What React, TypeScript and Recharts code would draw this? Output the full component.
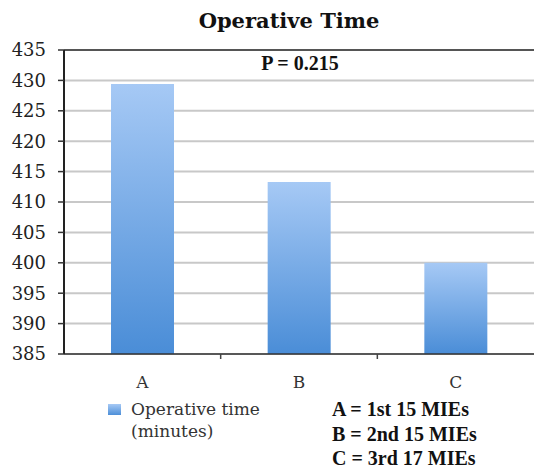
import { BarChart, Bar, XAxis, YAxis, CartesianGrid, ReferenceLine, Legend } from 'recharts';

const groups = ['A', 'B', 'C'];
const operativeTime = [429.4, 413.3, 400.0];
const yTicks = [385, 390, 395, 400, 405, 410, 415, 420, 425, 430, 435];
const groupKey = ['A = 1st 15 MIEs', 'B = 2nd 15 MIEs', 'C = 3rd 17 MIEs'];
const seriesName = ['Operative time', '(minutes)'];
const pValue = 'P = 0.215';

const data = groups.map((g, i) => ({ group: g, time: operativeTime[i] }));

const serif = '"DejaVu Serif", serif';
const timesBold = { fontFamily: '"Liberation Serif", serif', fontWeight: 700, fontSize: 20, color: '#111' };

// category label, plus a short tick on the right-hand boundary of the band
// (payload.offset is half the band width)
function GroupTick(props: any) {
  const { x, y, payload, index } = props;
  const edge = x + payload.offset;
  return (
    <g>
      {index < groups.length - 1 && (
        <line x1={edge} x2={edge} y1={y} y2={y + 5} stroke="#444" strokeWidth={1.5} />
      )}
      <text x={x} y={y + 22} dy="0.71em" textAnchor="middle" fontFamily={serif} fontSize={17} fill="#333">
        {payload.value}
      </text>
    </g>
  );
}

function LegendBox() {
  return (
    <div style={{ display: 'flex', alignItems: 'flex-start', fontFamily: serif, fontSize: 17, color: '#333', lineHeight: '22px' }}>
      <div
        style={{
          width: 13,
          height: 11,
          marginTop: 6,
          marginRight: 10,
          background: 'linear-gradient(#a6c9f5, #4d8fd8)',
        }}
      />
      <div>
        {seriesName.map(s => (
          <div key={s}>{s}</div>
        ))}
      </div>
    </div>
  );
}

export default function App() {
  return (
    <div style={{ position: 'absolute', left: 0, top: 0, width: 534, height: 469, background: '#fff' }}>
      <div
        style={{
          position: 'absolute',
          left: 139,
          width: 300,
          top: 8,
          textAlign: 'center',
          fontFamily: serif,
          fontWeight: 700,
          fontSize: 21,
          color: '#111',
        }}
      >
        Operative Time
      </div>
      <div style={{ position: 'absolute', left: 200, width: 200, top: 52, textAlign: 'center', ...timesBold }}>
        {pValue}
      </div>

      <BarChart width={534} height={469} data={data} margin={{ top: 50, right: 0, left: 0, bottom: 85 }} barCategoryGap="30%">
        <defs>
          <linearGradient id="barFill" x1="0" y1="0" x2="0" y2="1">
            <stop offset="0%" stopColor="#a6c9f5" />
            <stop offset="100%" stopColor="#4a8dd7" />
          </linearGradient>
        </defs>
        <CartesianGrid vertical={false} stroke="#c8c8c8" strokeWidth={2} />
        <ReferenceLine y={435} stroke="#555" strokeWidth={2} />
        <XAxis
          dataKey="group"
          height={30}
          tickLine={false}
          tickSize={0}
          tickMargin={0}
          axisLine={{ stroke: '#333', strokeWidth: 1.5 }}
          tick={<GroupTick />}
        />
        <YAxis
          domain={[385, 435]}
          ticks={yTicks}
          width={64}
          interval={0}
          tickSize={6}
          tickMargin={12}
          axisLine={{ stroke: '#222', strokeWidth: 2 }}
          tickLine={{ stroke: '#333', strokeWidth: 1.5 }}
          tick={{ fontFamily: serif, fontSize: 18, fill: '#222' }}
        />
        <Legend
          verticalAlign="middle"
          align="center"
          content={() => <LegendBox />}
          wrapperStyle={{ position: 'absolute', left: 108, top: 398, width: 200 }}
        />
        <Bar dataKey="time" name="Operative time (minutes)" fill="url(#barFill)" isAnimationActive={false} />
      </BarChart>

      <div style={{ position: 'absolute', left: 332, top: 397, lineHeight: '24.5px', ...timesBold }}>
        {groupKey.map(k => (
          <div key={k}>{k}</div>
        ))}
      </div>
    </div>
  );
}
